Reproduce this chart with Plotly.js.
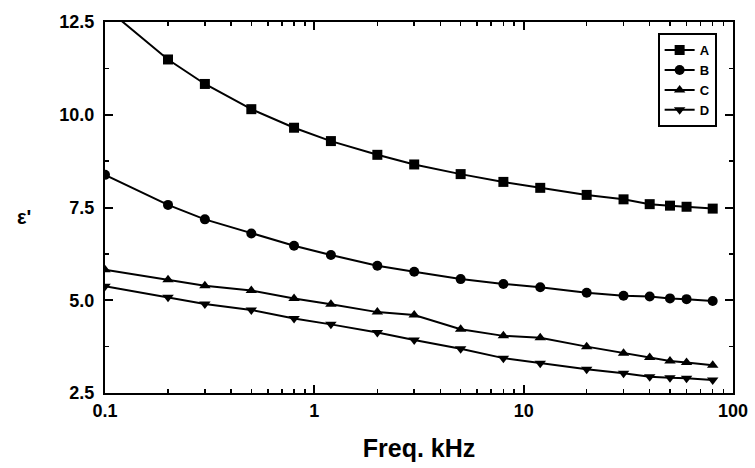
<!DOCTYPE html>
<html><head><meta charset="utf-8">
<script src="https://cdn.plot.ly/plotly-3.0.1.min.js"></script>
<style>body{margin:0;background:#fff}#c{width:755px;height:468px}</style>
</head><body><div id="c"></div>
<script>
const freq = [0.1,0.2,0.3,0.5,0.8,1.2,2,3,5,8,12,20,30,40,50,60,80];
const seriesA = [12.9,11.49,10.83,10.15,9.65,9.29,8.92,8.66,8.40,8.19,8.03,7.84,7.72,7.59,7.55,7.52,7.47];
const seriesB = [8.38,7.57,7.18,6.80,6.47,6.22,5.93,5.77,5.57,5.44,5.35,5.20,5.12,5.10,5.05,5.03,4.98];
const seriesC = [5.82,5.55,5.39,5.26,5.05,4.89,4.68,4.60,4.22,4.04,3.99,3.75,3.57,3.46,3.36,3.32,3.25];
const seriesD = [5.38,5.08,4.90,4.74,4.51,4.35,4.13,3.93,3.69,3.44,3.30,3.14,3.03,2.94,2.91,2.90,2.85];
const names = ['A','B','C','D'];
const symbols = ['square','circle','triangle-up','triangle-down'];
const yTickVals = [2.5,5,7.5,10,12.5];
const yTickText = ['2.5','5.0','7.5','10.0','12.5'];
const xTickVals = [0.1,1,10,100];
const xTickText = ['0.1','1','10','100'];
const all = [seriesA, seriesB, seriesC, seriesD];
const font = {family:'Liberation Sans, Arial, sans-serif', color:'#000', size:17, weight:'bold'};
const traces = all.map((s,i)=>({
  x: freq, y: s, name: names[i], type:'scatter', mode:'lines+markers',
  line:{color:'#000', width:2},
  marker:{symbol:symbols[i], size:10, color:'#000'}
}));
const layout = {
  width:755, height:468,
  margin:{l:105, r:22, t:22, b:75},
  paper_bgcolor:'#fff', plot_bgcolor:'#fff',
  font: font,
  showlegend:true,
  legend:{x:0.88, y:0.97, xanchor:'left', yanchor:'top', bgcolor:'#fff', bordercolor:'#000', borderwidth:2,
    font:{family:'Liberation Sans, Arial, sans-serif', size:13, weight:'bold', color:'#000'},
    itemwidth:30, tracegroupgap:0},
  xaxis:{type:'log', range:[-1,2], showgrid:false, zeroline:false,
    showline:true, linecolor:'#000', linewidth:2, mirror:'ticks',
    ticks:'inside', ticklen:8, tickwidth:2, tickcolor:'#000',
    tickvals:xTickVals, ticktext:xTickText,
    minor:{ticks:'inside', ticklen:4, tickwidth:1.5, tickcolor:'#000', tickvals:[0.2,0.3,0.4,0.5,0.6,0.7,0.8,0.9,2,3,4,5,6,7,8,9,20,30,40,50,60,70,80,90], showgrid:false},
    tickfont:{size:18, weight:'bold'},
    title:{text:'Freq. kHz', font:{size:25, weight:'bold'}, standoff:20}},
  yaxis:{range:[2.5,12.5], showgrid:false, zeroline:false,
    showline:true, linecolor:'#000', linewidth:2, mirror:'ticks',
    ticks:'inside', ticklen:8, tickwidth:2, tickcolor:'#000',
    tickvals:yTickVals, ticktext:yTickText.map(t=>t+'\u00a0'),
    minor:{ticks:'inside', ticklen:4, tickwidth:1.5, tickcolor:'#000', dtick:1.25, showgrid:false},
    tickfont:{size:18, weight:'bold'}},
  annotations:[{text:"ε'", xref:'paper', yref:'paper', x:-0.143, y:0.474, showarrow:false,
    font:{size:20, weight:'bold', family:'Liberation Sans, Arial, sans-serif'}}]
};
Plotly.newPlot('c', traces, layout, {displayModeBar:false, staticPlot:true});
</script></body></html>
